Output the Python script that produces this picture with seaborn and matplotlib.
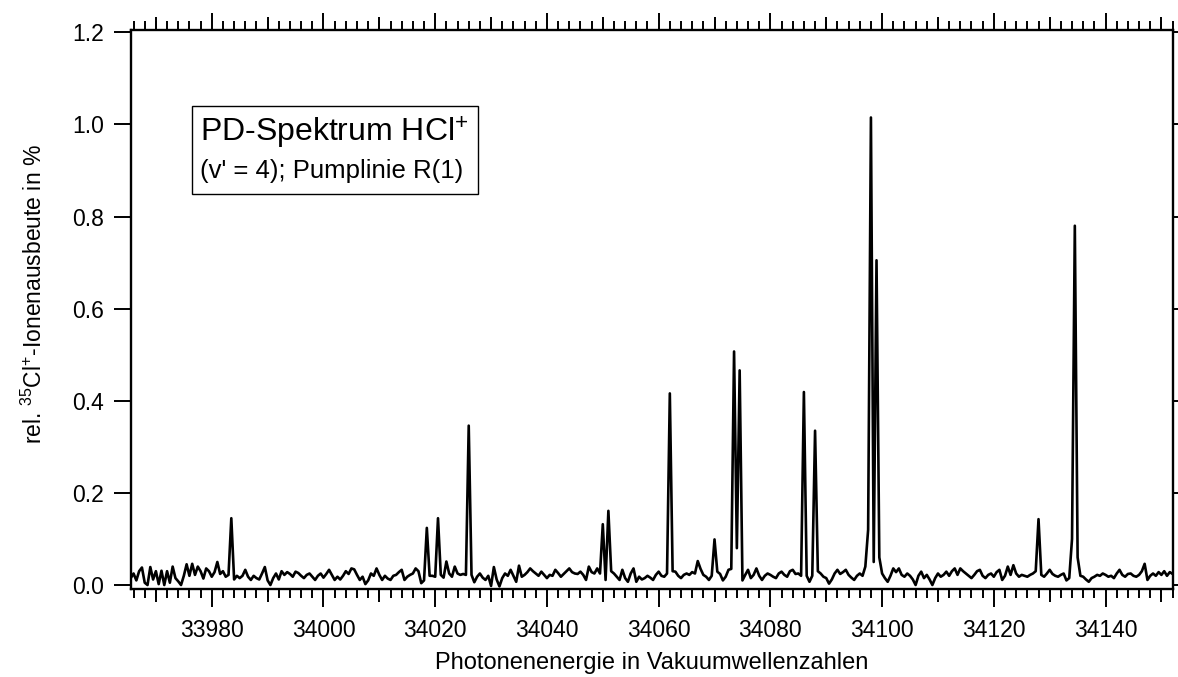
import numpy as np
import pandas as pd
import matplotlib
matplotlib.use("Agg")
import matplotlib.pyplot as plt
import seaborn as sns
from matplotlib.ticker import MultipleLocator, NullLocator, FormatStrFormatter
from matplotlib.patches import Rectangle

# Photodissociation spectrum of HCl+ (v' = 4), pump line R(1)
# Sampling of the wavenumber axis (cm^-1)
wavenumber_start = 33965.5
wavenumber_step = 0.5

# Relative 35Cl+ ion yield in %, one row per 10 cm^-1 (row start in comment)
ion_yield = [
    # 33965.5
    0.015, 0.025, 0.010, 0.030, 0.038, 0.005, 0.000, 0.039, 0.012, 0.030,
    0.002, 0.031, 0.000, 0.030, 0.005, 0.040, 0.015, 0.008, 0.000, 0.020,
    # 33975.5
    0.045, 0.020, 0.046, 0.022, 0.040, 0.030, 0.014, 0.036, 0.030, 0.018,
    0.028, 0.050, 0.024, 0.030, 0.018, 0.022, 0.145, 0.012, 0.020, 0.015,
    # 33985.5
    0.020, 0.033, 0.018, 0.011, 0.020, 0.015, 0.012, 0.025, 0.039, 0.010,
    0.000, 0.015, 0.025, 0.012, 0.030, 0.022, 0.028, 0.024, 0.018, 0.029,
    # 33995.5
    0.026, 0.020, 0.015, 0.022, 0.025, 0.018, 0.011, 0.020, 0.025, 0.016,
    0.024, 0.033, 0.022, 0.011, 0.018, 0.012, 0.020, 0.030, 0.024, 0.036,
    # 34005.5
    0.034, 0.022, 0.011, 0.018, 0.002, 0.010, 0.025, 0.020, 0.036, 0.022,
    0.011, 0.020, 0.014, 0.011, 0.020, 0.022, 0.028, 0.033, 0.011, 0.018,
    # 34015.5
    0.022, 0.025, 0.036, 0.030, 0.004, 0.010, 0.124, 0.020, 0.020, 0.018,
    0.145, 0.022, 0.016, 0.051, 0.025, 0.018, 0.040, 0.025, 0.022, 0.024,
    # 34025.5
    0.022, 0.346, 0.022, 0.006, 0.018, 0.025, 0.016, 0.011, 0.020, -0.002,
    0.039, 0.012, -0.003, 0.015, 0.025, 0.020, 0.033, 0.020, 0.007, 0.042,
    # 34035.5
    0.018, 0.022, 0.028, 0.036, 0.030, 0.025, 0.020, 0.029, 0.022, 0.015,
    0.022, 0.020, 0.033, 0.026, 0.018, 0.024, 0.030, 0.036, 0.028, 0.025,
    # 34045.5
    0.024, 0.029, 0.022, 0.011, 0.040, 0.028, 0.025, 0.036, 0.025, 0.132,
    0.011, 0.161, 0.030, 0.025, 0.018, 0.011, 0.033, 0.015, 0.007, 0.025,
    # 34055.5
    0.036, 0.007, 0.018, 0.012, 0.015, 0.020, 0.016, 0.011, 0.022, 0.029,
    0.020, 0.018, 0.025, 0.416, 0.030, 0.029, 0.020, 0.015, 0.022, 0.025,
    # 34065.5
    0.022, 0.028, 0.025, 0.052, 0.035, 0.022, 0.018, 0.011, 0.020, 0.099,
    0.029, 0.024, 0.010, 0.018, 0.033, 0.035, 0.507, 0.080, 0.466, 0.010,
    # 34075.5
    0.022, 0.033, 0.015, 0.022, 0.036, 0.020, 0.011, 0.020, 0.025, 0.022,
    0.018, 0.015, 0.025, 0.029, 0.022, 0.018, 0.030, 0.033, 0.024, 0.025,
    # 34085.5
    0.020, 0.419, 0.020, 0.007, 0.020, 0.335, 0.030, 0.025, 0.018, 0.015,
    0.003, 0.012, 0.025, 0.033, 0.024, 0.028, 0.033, 0.022, 0.016, 0.011,
    # 34095.5
    0.020, 0.025, 0.020, 0.040, 0.120, 1.015, 0.050, 0.705, 0.060, 0.025,
    0.015, 0.007, 0.020, 0.036, 0.028, 0.036, 0.022, 0.018, 0.025, 0.020,
    # 34105.5
    0.012, 0.000, 0.020, 0.029, 0.015, 0.022, 0.012, 0.000, 0.015, 0.025,
    0.018, 0.022, 0.029, 0.020, 0.030, 0.036, 0.022, 0.036, 0.030, 0.025,
    # 34115.5
    0.020, 0.015, 0.022, 0.030, 0.033, 0.020, 0.015, 0.022, 0.025, 0.018,
    0.028, 0.033, 0.011, 0.020, 0.040, 0.022, 0.043, 0.025, 0.018, 0.022,
    # 34125.5
    0.020, 0.018, 0.022, 0.025, 0.030, 0.143, 0.022, 0.018, 0.025, 0.033,
    0.024, 0.020, 0.018, 0.022, 0.025, 0.010, 0.015, 0.100, 0.780, 0.060,
    # 34135.5
    0.020, 0.018, 0.012, 0.007, 0.015, 0.018, 0.022, 0.020, 0.025, 0.022,
    0.018, 0.020, 0.015, 0.025, 0.033, 0.022, 0.018, 0.024, 0.025, 0.020,
    # 34145.5
    0.018, 0.022, 0.030, 0.046, 0.011, 0.020, 0.025, 0.020, 0.028, 0.022,
    0.030, 0.020, 0.028, 0.024,
]

x_label_ticks = [33980, 34000, 34020, 34040, 34060, 34080, 34100, 34120, 34140]
y_ticks = [0.0, 0.2, 0.4, 0.6, 0.8, 1.0, 1.2]

wavenumber = wavenumber_start + wavenumber_step * np.arange(len(ion_yield))
df = pd.DataFrame({"wavenumber": wavenumber, "yield": ion_yield})

sns.set_theme(style="ticks", rc={
    "axes.edgecolor": "black", "axes.labelcolor": "black",
    "xtick.color": "black", "ytick.color": "black", "text.color": "black",
})
plt.rcParams["font.family"] = ["Liberation Sans", "DejaVu Sans"]
plt.rcParams["mathtext.default"] = "regular"

fig = plt.figure(figsize=(11.78, 6.77), dpi=100)
ax = fig.add_axes([0.1110, 0.1307, 0.8844, 0.8257])

sns.lineplot(data=df, x="wavenumber", y="yield", ax=ax, color="black",
             linewidth=1.9, estimator=None, sort=False)

ax.set_xlim(wavenumber[0], wavenumber[-1])
ax.set_ylim(-0.0076, 1.206)

for side in ("left", "right", "top", "bottom"):
    ax.spines[side].set_visible(True)
    ax.spines[side].set_linewidth(1.7)

# x axis: labelled ticks every 20, minor every 2, medium every 10 (below)
ax.set_xticks(x_label_ticks)
ax.xaxis.set_minor_locator(MultipleLocator(2))
ax.tick_params(axis="x", which="major", direction="out", length=12.6, width=1.4,
               top=True, labeltop=False, labelsize=16.5, pad=9.5)
ax.tick_params(axis="x", which="minor", direction="out", length=6.8, width=1.4,
               top=True)

ax.set_yticks(y_ticks)
ax.yaxis.set_minor_locator(NullLocator())
ax.yaxis.set_major_formatter(FormatStrFormatter("%.1f"))
ax.tick_params(axis="y", which="major", direction="out", length=12.5, width=1.4,
               left=True, right=False, labelsize=16.5, pad=7)

medium_ticks = np.arange(33970, 34152, 20)
for side in ("bottom", "top"):
    sec = ax.secondary_xaxis(side)
    sec.set_xticks(medium_ticks)
    sec.tick_params(direction="out", length=9.4, width=1.4,
                    labelbottom=False, labeltop=False)
    sec.spines[side].set_visible(False)

sec_y = ax.secondary_yaxis("right")
sec_y.set_yticks(y_ticks)
sec_y.tick_params(direction="out", length=3.6, width=1.4, labelright=False)
sec_y.spines["right"].set_visible(False)

ax.set_xlabel("Photonenenergie in Vakuumwellenzahlen", fontsize=17)
ax.xaxis.set_label_coords(0.5, -0.113)
ax.set_ylabel("rel. $^{35}$Cl$^{+}$-Ionenausbeute in %", fontsize=16.5)
ax.yaxis.set_label_coords(-0.0806, 0.527)

# Title box
ax.add_patch(Rectangle((0.0586, 0.706), 0.2748, 0.157, transform=ax.transAxes,
                       fill=False, edgecolor="black", linewidth=1.0, zorder=5))
ax.text(0.0665, 0.799, "PD-Spektrum HCl$^{+}$", transform=ax.transAxes,
        fontsize=23, ha="left", va="baseline")
ax.text(0.0665, 0.734, "(v' = 4); Pumplinie R(1)", transform=ax.transAxes,
        fontsize=18.5, ha="left", va="baseline")

fig.savefig("out.png", dpi=100)
